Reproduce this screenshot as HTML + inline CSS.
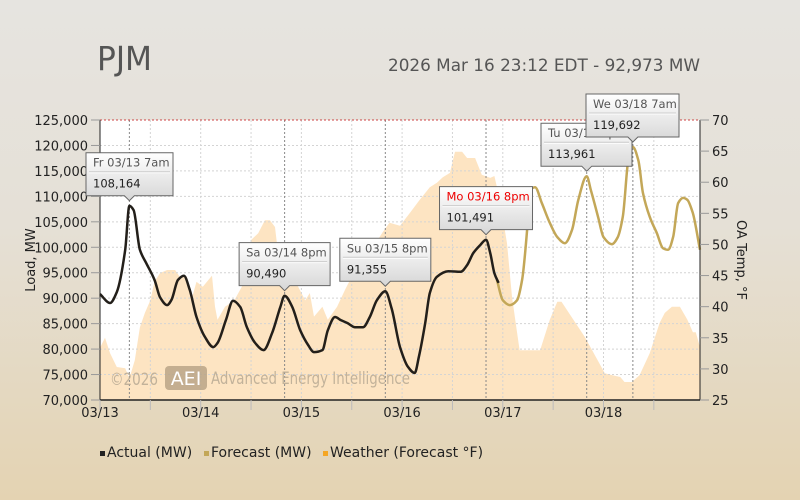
<!DOCTYPE html>
<html><head><meta charset="utf-8">
<style>
html,body{margin:0;padding:0;width:800px;height:500px;overflow:hidden}
body{background:linear-gradient(#e6e4e0 0%,#e5e0d6 45%,#e4d3b2 100%);font-family:"DejaVu Sans","Liberation Sans",sans-serif}
svg text{font-family:"DejaVu Sans","Liberation Sans",sans-serif}
</style></head>
<body>
<svg id="chart" width="800" height="500" xmlns="http://www.w3.org/2000/svg">
<text x="97" y="70" font-size="33" fill="#555" textLength="55" lengthAdjust="spacingAndGlyphs">PJM</text>
<text x="388" y="71" font-size="17" fill="#555" textLength="312" lengthAdjust="spacingAndGlyphs">2026 Mar 16 23:12 EDT - 92,973 MW</text>
<rect x="100" y="120" width="600" height="280" fill="#fff"/>
<g id="weather"></g>
<g id="grid"></g>
<text x="110" y="385" font-size="17" fill="#b8aa94" textLength="48" lengthAdjust="spacingAndGlyphs" opacity="0.85">©2026</text>
<rect x="165" y="366" width="42" height="24" rx="4" fill="#b5a083" opacity="0.8"/>
<text x="186" y="385" font-size="19" fill="#fff" text-anchor="middle">AEI</text>
<text x="211" y="384" font-size="17" fill="#b8aa94" textLength="199" lengthAdjust="spacingAndGlyphs" opacity="0.85">Advanced Energy Intelligence</text>
<g id="series"></g>
<g id="axes"></g>
<g id="tips"></g>
<g>
<rect x="100" y="451" width="5" height="5" fill="#222"/>
<text x="107" y="457" font-size="14" fill="#222">Actual (MW)</text>
<rect x="204" y="451" width="5" height="5" fill="#c3a758"/>
<text x="211" y="457" font-size="14" fill="#222">Forecast (MW)</text>
<rect x="323" y="451" width="5" height="5" fill="#f5a623"/>
<text x="330" y="457" font-size="14" fill="#222">Weather (Forecast °F)</text>
</g>
</svg>
<script>
const actualHours=[0,2.4,4,6,7,8,9.5,11,13,14.3,16,17,18.6,20,21.4,23,25,27,28,30,31.7,33.4,35,37,39,41,43,44,45.8,47.7,49.6,51,53,54.3,56,57.4,59,60.8,62.7,64.3,66,68,69.5,71.5,73.4,75,76,77.5,78.6,80.3,83,86,87.5,89,90.6,92,93,94,95];
const actualValues=[90800,89050,91200,99500,108164,107300,99500,96900,93600,90200,88650,89600,93600,94400,91600,86300,82400,80400,81200,85700,89500,88300,84300,81200,79800,83100,88300,90490,88300,83750,80800,79400,79800,83700,86300,85700,85100,84300,84300,86300,89600,91355,88000,80400,76500,75300,78500,85100,91000,94200,95300,95200,96500,98900,100400,101491,98900,94900,93000];
const forecastHours=[94.6,96,97.7,99.4,100.6,101.8,102.5,103.7,105.3,107.2,109,110.8,112.5,114,116,117,118.7,120,122,123.4,124.6,126,127,128.3,129.4,131,132.7,134.2,135.4,136.6,137.8,139,140,141.3,143];
const forecastValues=[93600,89600,88650,89600,93600,103400,111200,111800,108700,104800,102000,100800,103400,109300,113961,111200,106000,102000,100600,102000,106000,117700,119692,117100,110700,106000,102800,99800,99500,102000,108700,109700,109300,106700,99500];
const weatherHours=[0,1.2,2.4,4,6,7,8.3,9.5,10.7,12,13,14.3,16,17.9,19,20.7,22,23,24.5,26.7,27.4,28,29.8,32,33.8,36,37.7,39.3,40.5,41.7,43,44.8,47,48.9,50,51,53,54.3,56.5,58.4,59.6,61,62.7,64.3,66,67.4,69,71.5,74,76,78.6,80.3,81.7,83.4,84.6,86.3,87.5,89.4,91,93,94,95.3,97,98.2,99.4,100,103.7,104.9,107.2,109,110,115.6,120.3,122,124,125,126.8,128.6,131,133.4,134.6,136.3,138.2,140,141.3,142,143];
const weatherTemps=[33.4,35,32.5,30.3,30.1,28.5,31.4,36.7,39,41,44,45.4,45.9,45.9,44.8,44.8,41.6,44,43.2,45,40,37.9,40,41,43.2,50.7,51.8,53.9,53.9,52.8,45.4,43.2,43.5,41,42.2,38.4,40,37.9,40,42.7,44.3,45.4,46.5,48.5,50.5,52,53.5,53,55.2,57,59.2,59.9,60.8,61.5,64.9,64.9,63.9,63.9,61.2,60.7,61,57.1,50.2,41.6,35.8,33,33,33,37.9,40.8,40.8,35.1,29.3,29,28.7,27.9,27.9,29,32.5,37.4,39,40,40,37.9,35.9,35.9,33.5];
const loadTicks=[70000,75000,80000,85000,90000,95000,100000,105000,110000,115000,120000,125000];
const tempTicks=[25,30,35,40,45,50,55,60,65,70];
const dayLabels=["03/13","03/14","03/15","03/16","03/17","03/18"];
const tipLabels=["Fr 03/13 7am","Sa 03/14 8pm","Su 03/15 8pm","Mo 03/16 8pm","Tu 03/17 8pm","We 03/18 7am"];
const tipHours=[7,44,68,92,116,127];
const tipValues=[108164,90490,91355,101491,113961,119692];

const NS="http://www.w3.org/2000/svg";
const X0=100,X1=700,Y0=120,Y1=400,HMAX=143;
const xS=h=>X0+h*(X1-X0)/HMAX;
const yL=v=>Y1-(v-70000)*(Y1-Y0)/55000;
const yT=t=>Y1-(t-25)*(Y1-Y0)/45;
function mk(tag,attrs,parent){const e=document.createElementNS(NS,tag);for(const k in attrs)e.setAttribute(k,attrs[k]);parent.appendChild(e);return e;}
function smooth(pts){
 const n=pts.length;const dx=[],dy=[],m=[],t=new Array(n);
 for(let i=0;i<n-1;i++){dx[i]=pts[i+1][0]-pts[i][0];dy[i]=pts[i+1][1]-pts[i][1];m[i]=dy[i]/dx[i];}
 t[0]=m[0];t[n-1]=m[n-2];
 for(let i=1;i<n-1;i++){if(m[i-1]*m[i]<=0)t[i]=0;else{const w1=2*dx[i]+dx[i-1],w2=dx[i]+2*dx[i-1];t[i]=(w1+w2)/(w1/m[i-1]+w2/m[i]);}}
 let d=`M${pts[0][0].toFixed(1)},${pts[0][1].toFixed(1)}`;
 for(let i=0;i<n-1;i++){const h=dx[i]/3;d+=` C${(pts[i][0]+h).toFixed(1)},${(pts[i][1]+t[i]*h).toFixed(1)} ${(pts[i+1][0]-h).toFixed(1)},${(pts[i+1][1]-t[i+1]*h).toFixed(1)} ${pts[i+1][0].toFixed(1)},${pts[i+1][1].toFixed(1)}`;}
 return d;}

const wg=document.getElementById('weather');
let wd=`M${xS(weatherHours[0])},${Y1}`;
weatherHours.forEach((h,i)=>{wd+=` L${xS(h).toFixed(1)},${yT(weatherTemps[i]).toFixed(1)}`;});
wd+=` L${xS(weatherHours[weatherHours.length-1])},${Y1} Z`;
const wa=mk('path',{d:wd,fill:'#fde3bf',opacity:'0.95'},wg);



const gg=document.getElementById('grid');
loadTicks.forEach(v=>{if(v===125000)return;const l=mk('line',{x1:X0,x2:X1,y1:yL(v),y2:yL(v),stroke:'#d4d4d4','stroke-dasharray':'2,2'},gg);

});
for(let h=12;h<HMAX;h+=12){const l=mk('line',{x1:xS(h),x2:xS(h),y1:Y0,y2:Y1,stroke:'#d4d4d4','stroke-dasharray':'2,2'},gg);

}
tipHours.forEach(h=>{const l=mk('line',{x1:xS(h),x2:xS(h),y1:Y0,y2:Y1,stroke:'#888','stroke-dasharray':'2,2'},gg);

});
const tl=mk('line',{x1:X0,x2:X1,y1:Y0,y2:Y0,stroke:'#c44','stroke-dasharray':'2,2','stroke-width':1},gg);



const sg=document.getElementById('series');
const fp=mk('path',{d:smooth(forecastHours.map((h,i)=>[xS(h),yL(forecastValues[i])])),fill:'none',stroke:'#c3a758','stroke-width':2.5},sg);


const ap=mk('path',{d:smooth(actualHours.map((h,i)=>[xS(h),yL(actualValues[i])])),fill:'none',stroke:'#231f1a','stroke-width':2.5},sg);



const ag=document.getElementById('axes');
mk('line',{x1:X0,x2:X0,y1:Y0,y2:Y1,stroke:'#222'},ag);
mk('line',{x1:X1,x2:X1,y1:Y0,y2:Y1,stroke:'#222'},ag);
mk('line',{x1:X0,x2:X1,y1:Y1,y2:Y1,stroke:'#222','stroke-width':1.5},ag);
loadTicks.forEach(v=>{mk('line',{x1:X0-9,x2:X0,y1:yL(v),y2:yL(v),stroke:'#999'},ag);
const t=mk('text',{x:X0-12,y:yL(v)+5,'font-size':13,'text-anchor':'end',fill:'#222'},ag);t.textContent=v.toLocaleString('en-US');

});
tempTicks.forEach(v=>{mk('line',{x1:X1,x2:X1+9,y1:yT(v),y2:yT(v),stroke:'#999'},ag);
const t=mk('text',{x:X1+12,y:yT(v)+5,'font-size':13,fill:'#222'},ag);t.textContent=v;

});
for(let h=0;h<=HMAX;h+=12){mk('line',{x1:xS(h),x2:xS(h),y1:Y1,y2:Y1+10,stroke:'#bbb'},ag);}
dayLabels.forEach((d,i)=>{const t=mk('text',{x:xS(i*24),y:Y1+17,'font-size':13,'text-anchor':'middle',fill:'#222'},ag);t.textContent=d;

});
const yt=mk('text',{x:0,y:0,'font-size':13,'text-anchor':'middle',fill:'#222',transform:`translate(35,260) rotate(-90)`},ag);yt.textContent='Load, MW';


const yt2=mk('text',{x:0,y:0,'font-size':13,'text-anchor':'middle',fill:'#222',transform:`translate(737,260) rotate(90)`},ag);yt2.textContent='OA Temp, °F';



const tg=document.getElementById('tips');
const defs=mk('defs',{},tg);
const grad=mk('linearGradient',{id:'tipg',x1:0,y1:0,x2:0,y2:1},defs);
mk('stop',{offset:'0','stop-color':'#ffffff'},grad);mk('stop',{offset:'1','stop-color':'#d6d6d6'},grad);
const tipW=[87,91,91,93,91,93];
tipHours.forEach((h,i)=>{
 const px=xS(h),py=yL(tipValues[i])-5;
 const w=tipW[i],hgt=43;
 let bx=px-w/2;
 if(i===0)bx=86;if(i===4)bx=541;if(i===5)bx=586;
 const by=py-hgt-5;
 const g=mk('g',{},tg);
 
 
 mk('path',{d:`M${bx},${by} h${w} v${hgt} H${px+5} l-5,5 l-5,-5 H${bx} Z`,fill:'url(#tipg)',stroke:'#666','stroke-width':1},g);
 mk('line',{x1:bx+3,x2:bx+w-3,y1:by+20,y2:by+20,stroke:'#fff','stroke-width':1},g);
 mk('line',{x1:bx+3,x2:bx+w-3,y1:by+19,y2:by+19,stroke:'#ccc','stroke-width':1},g);
 const t1=mk('text',{x:bx+7,y:by+14,'font-size':11.5,fill:i===3?'#e00':'#555'},g);t1.textContent=tipLabels[i];
 const t2=mk('text',{x:bx+7,y:by+35,'font-size':11.5,fill:'#222'},g);t2.textContent=tipValues[i].toLocaleString('en-US');
});
</script>
</body></html>
